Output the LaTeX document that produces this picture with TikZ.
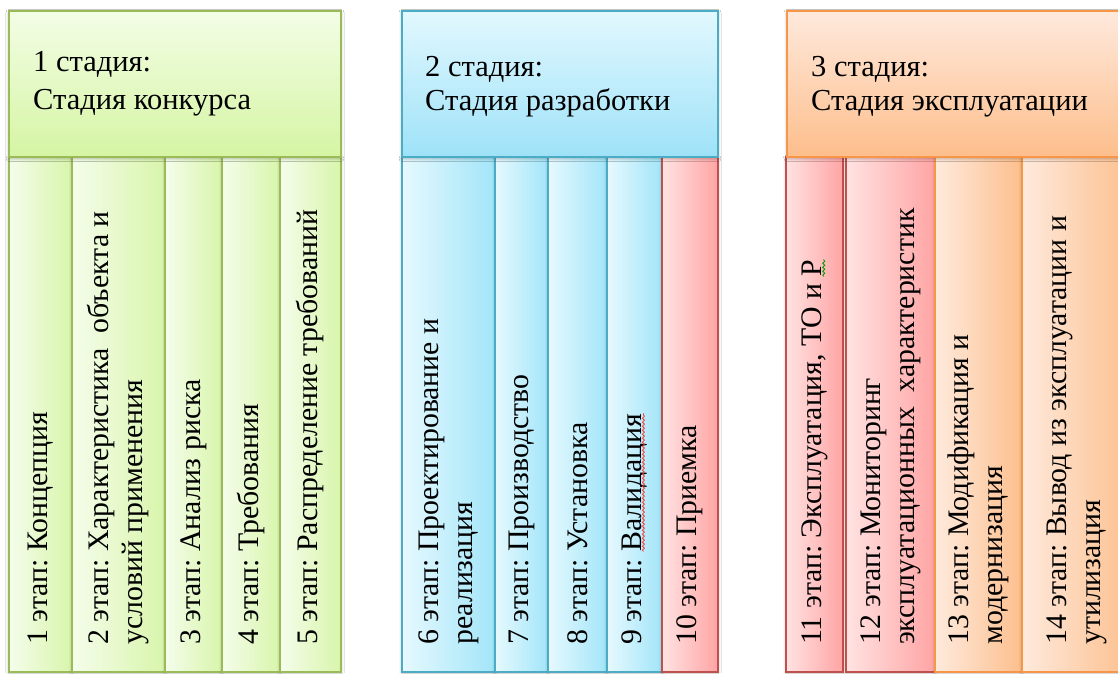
\documentclass[tikz,border=0pt]{standalone}
\usepackage{fontspec}
\setmainfont{Liberation Serif}
\usetikzlibrary{shadows.blur,decorations.pathmorphing,calc}
\frenchspacing

% stage palettes
\definecolor{gTop}{HTML}{F3FDE6}
\definecolor{gBot}{HTML}{D5F5A3}
\definecolor{gEdge}{HTML}{9BBB59}
\definecolor{gL}{HTML}{F5FDEB}
\definecolor{gR}{HTML}{D8F5AB}
\definecolor{bTop}{HTML}{E2F8FE}
\definecolor{bBot}{HTML}{9EE2F8}
\definecolor{bEdge}{HTML}{4BACC6}
\definecolor{bL}{HTML}{E6F9FE}
\definecolor{bR}{HTML}{A2E5F9}
\definecolor{oTop}{HTML}{FEE9DC}
\definecolor{oBot}{HTML}{FDBE8C}
\definecolor{oEdge}{HTML}{F79646}
\definecolor{oL}{HTML}{FEEADD}
\definecolor{oR}{HTML}{FDBF8D}
\definecolor{rL}{HTML}{FFE3E2}
\definecolor{rR}{HTML}{FFA4A4}
\definecolor{rEdge}{HTML}{C0504D}

\begin{document}
\begin{tikzpicture}[x=1pt,y=-1pt,
  box/.style={draw, line width=1.4pt, inner sep=0pt, outer sep=0pt, anchor=north west,
    blur shadow={shadow xshift=0pt, shadow yshift=-1.5pt, shadow blur radius=3pt, shadow opacity=30}},
  hdr/.style={box, minimum height=146pt},
  col/.style={box, minimum height=515pt},
  green head/.style={hdr, draw=gEdge, top color=gTop, bottom color=gBot},
  blue head/.style={hdr, draw=bEdge, top color=bTop, bottom color=bBot},
  orange head/.style={hdr, draw=oEdge, top color=oTop, bottom color=oBot},
  green col/.style={col, draw=gEdge, left color=gL, right color=gR},
  blue col/.style={col, draw=bEdge, left color=bL, right color=bR},
  orange col/.style={col, draw=oEdge, left color=oL, right color=oR},
  red col/.style={col, draw=rEdge, left color=rL, right color=rR},
  hd/.style={anchor=base west, inner sep=0pt, font=\fontsize{30.5}{36}\selectfont},
  lbl/.style={rotate=90, anchor=west, align=left, inner sep=0pt, font=\fontsize{29.8}{34}\selectfont},
  squiggle/.style={decorate, decoration={snake, amplitude=1pt, segment length=4pt}, line width=0.8pt},
]
\useasboundingbox (0,0) rectangle (1118,673);
\clip (0,0) rectangle (1118,673);
\fill[white] (0,0) rectangle (1118,673);

% ---- stage 1: stage columns
\node[green col, minimum width=63pt] (c1) at (9,157) {};
\node[green col, minimum width=93pt] (c2) at (72,157) {};
\node[green col, minimum width=57pt] (c3) at (165,157) {};
\node[green col, minimum width=58pt] (c4) at (222,157) {};
\node[green col, minimum width=61pt] (c5) at (280,157) {};

% ---- stage 2: stage columns
\node[blue col, minimum width=93pt] (c6) at (402,157) {};
\node[blue col, minimum width=53pt] (c7) at (495,157) {};
\node[blue col, minimum width=59pt] (c8) at (548,157) {};
\node[blue col, minimum width=55pt] (c9) at (607,157) {};
\node[red col, minimum width=56pt] (c10) at (662,157) {};

% ---- stage 3: stage columns
\node[red col, minimum width=57pt] (c11) at (786,157) {};
\node[red col, minimum width=89pt] (c12) at (846,157) {};
\node[orange col, minimum width=87pt] (c13) at (935,157) {};
\node[orange col, minimum width=110pt] (c14) at (1022,157) {};

% ---- stage headers
\node[green head, minimum width=332pt] (h1) at (9,11) {};
\node[blue head, minimum width=316pt] (h2) at (402,11) {};
\node[orange head, minimum width=345pt] (h3) at (787,11) {};

\path (h1.north west) ++(24,60) node[hd] (h1a) {1 стадия:};
\path (h1.north west) ++(24,98) node[hd] (h1b) {Стадия конкурса};
\path (h2.north west) ++(23,65) node[hd] (h2a) {2 стадия:};
\path (h2.north west) ++(23,99) node[hd] (h2b) {Стадия разработки};
\path (h3.north west) ++(24,65) node[hd] (h3a) {3 стадия:};
\path (h3.north west) ++(24,99) node[hd] (h3b) {Стадия эксплуатации};

% ---- stage labels, read bottom to top
\path (c1.south) ++(0,-27) node[lbl] (t1) {1 этап: Концепция};
\path (c2.south) ++(0,-27) node[lbl] (t2) {2 этап: Характеристика\ \ объекта и\\условий применения};
\path (c3.south) ++(0,-27) node[lbl] (t3) {3 этап: Анализ риска};
\path (c4.south) ++(0,-27) node[lbl] (t4) {4 этап: Требования};
\path (c5.south) ++(0,-27) node[lbl] (t5) {5 этап: Распределение требований};
\path (c6.south) ++(0,-27) node[lbl] (t6) {6 этап: Проектирование и\\реализация};
\path (c7.south) ++(0,-27) node[lbl] (t7) {7 этап: Производство};
\path (c8.south) ++(0,-27) node[lbl] (t8) {8 этап: Установка};
\path (c9.south) ++(0,-27) node[lbl] (t9) {9 этап: Валидация};
\path (c10.south) ++(0,-27) node[lbl] (t10) {10 этап: Приемка};
\path (c11.south) ++(0,-27) node[lbl] (t11) {11 этап: Эксплуатация, ТО и Р};
\path (c12.south) ++(0,-27) node[lbl] (t12) {12 этап: Мониторинг\\эксплуатационных\ \ характеристик};
\path (c13.south) ++(0,-27) node[lbl] (t13) {13 этап: Модификация и\\модернизация};
\path (c14.south) ++(0,-27) node[lbl] (t14) {14 этап: Вывод из эксплуатации и\\утилизация};

% ---- spelling marks along two words
\coordinate (v1) at ($(t9.south east)+(-4,138)$);
\coordinate (v2) at ($(t9.south east)+(-4,0)$);
\draw[squiggle, red!80] (v1) -- (v2);
\coordinate (p1) at ($(t11.south east)+(-4,17)$);
\coordinate (p2) at ($(t11.south east)+(-4,0)$);
\draw[squiggle, green!60!black] (p1) -- (p2);
\end{tikzpicture}
\end{document}
